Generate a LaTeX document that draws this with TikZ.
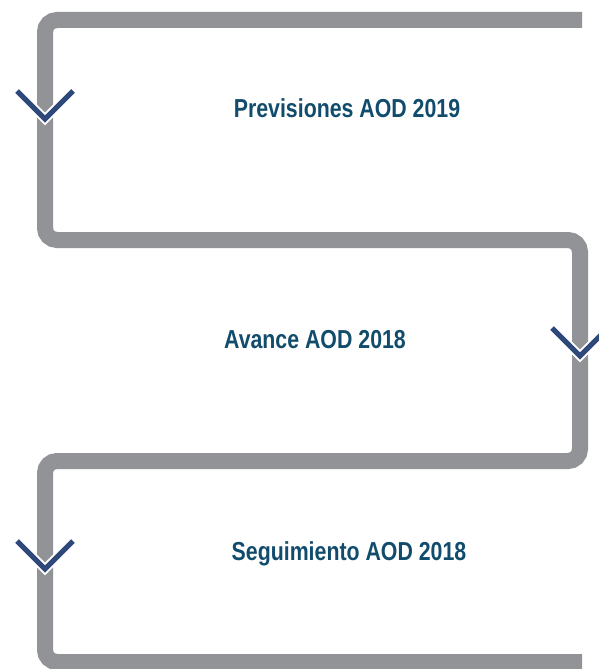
\documentclass[tikz,border=0pt]{standalone}
\usepackage{fontspec}
\setmainfont[FakeStretch=0.82]{Liberation Sans}
\usepackage{tikz}
\usetikzlibrary{positioning, calc}
\definecolor{pathgray}{RGB}{145,147,151}
\definecolor{chevblue}{RGB}{47,72,122}
\definecolor{labelblue}{RGB}{18,76,108}
\tikzset{track/.style={draw=pathgray, line width=16pt, rounded corners=12pt, line cap=butt}}
\tikzset{chevron/.style={draw=chevblue, line width=5pt, line join=miter,
    preaction={draw=white, line width=9pt}}}
\tikzset{steplabel/.style={text=labelblue, font=\fontsize{26}{30}\selectfont\bfseries, inner sep=0pt}}

\begin{document}
\begin{tikzpicture}[x=1pt, y=-1pt]

      \useasboundingbox (0,0) rectangle (599,669);
      \clip (0,0) rectangle (599,669);

      % TRACK

      \draw[track] (582,20) -- (45,20) -- (45,240) -- (580,240) -- (580,461)
        -- (45,461) -- (45,662) -- (582,662);

      % CHEVRONS

      \draw[chevron] (17,91) -- (45,119) -- (73,91);
      \draw[chevron] (552,328) -- (580,356) -- (608,328);
      \draw[chevron] (17,541) -- (45,569) -- (73,541);

      % LABELS

      \node[steplabel] (prev) at (347,108) {Previsiones AOD 2019};
      \node[steplabel] (avan) at (315,340) {Avance AOD 2018};
      \node[steplabel] (segu) at (349,554) {Seguimiento AOD 2018};
\end{tikzpicture}
\end{document}
